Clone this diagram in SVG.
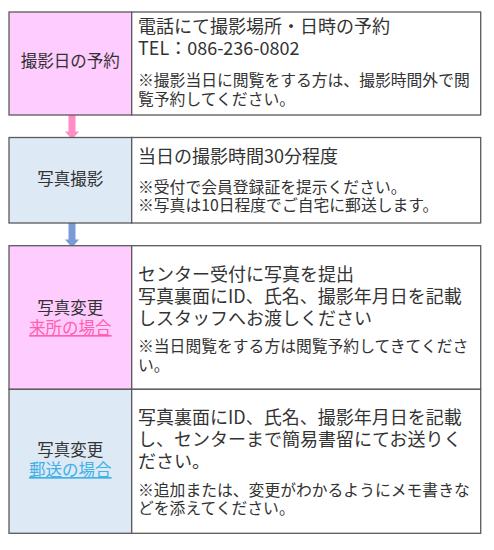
<svg xmlns="http://www.w3.org/2000/svg" width="494" height="550" viewBox="0 0 494 550">
<style>
.cell{stroke:#5a5a5a;stroke-width:1.3}
.pink{fill:#ffccff}
.blue{fill:#dde9f5}
.white{fill:#ffffff}
text{font-family:"Noto Sans CJK JP","Noto Sans",sans-serif;fill:#333333}
.lab{font-size:16.5px;text-anchor:middle}
.main{font-size:18px}
.note{font-size:15.8px}
.lpink{fill:#ff5fab}
.lblue{fill:#3fb0e8}
</style>
<rect width="494" height="550" fill="#ffffff"/>
<g id="connectors">
<polygon points="68.5,115 75.5,115 75.5,131.5 79,131.5 72,139.5 65,131.5 68.5,131.5" fill="#ff8cc6"/>
<polygon points="68.5,223 75.5,223 75.5,239.5 79,239.5 72,247.5 65,239.5 68.5,239.5" fill="#7b9bd6"/>
</g>
<g id="row1">
<rect class="cell pink" x="9" y="12" width="122.7" height="103"/>
<rect class="cell white" x="131.7" y="12" width="349" height="103"/>
<text class="lab" x="70.3" y="67">撮影日の予約</text>
<text class="main" x="138" y="33">電話にて撮影場所・日時の予約</text>
<text class="main" x="138" y="55">TEL：086-236-0802</text>
<text class="note" x="138" y="86">※撮影当日に閲覧をする方は、撮影時間外で閲</text>
<text class="note" x="138" y="105">覧予約してください。</text>
</g>
<g id="row2">
<rect class="cell blue" x="9" y="137.5" width="122.7" height="85.5"/>
<rect class="cell white" x="131.7" y="137.5" width="349" height="85.5"/>
<text class="lab" x="70.3" y="185">写真撮影</text>
<text class="main" x="138" y="163">当日の撮影時間30分程度</text>
<text class="note" x="138" y="193">※受付で会員登録証を提示ください。</text>
<text class="note" x="138" y="211">※写真は10日程度でご自宅に郵送します。</text>
</g>
<g id="row3">
<rect class="cell pink" x="9" y="245.7" width="122.7" height="143.6"/>
<rect class="cell white" x="131.7" y="245.7" width="349" height="143.6"/>
<text class="lab" x="70.3" y="314">写真変更</text>
<text class="lab lpink" x="70.3" y="334" text-decoration="underline">来所の場合</text>
<text class="main" x="138" y="281">センター受付に写真を提出</text>
<text class="main" x="138" y="303">写真裏面にID、氏名、撮影年月日を記載</text>
<text class="main" x="138" y="325">しスタッフへお渡しください</text>
<text class="note" x="138" y="352">※当日閲覧をする方は閲覧予約してきてくださ</text>
<text class="note" x="138" y="371">い。</text>
</g>
<g id="row4">
<rect class="cell blue" x="9" y="389.3" width="122.7" height="144"/>
<rect class="cell white" x="131.7" y="389.3" width="349" height="144"/>
<text class="lab" x="70.3" y="456">写真変更</text>
<text class="lab lblue" x="70.3" y="476" text-decoration="underline">郵送の場合</text>
<text class="main" x="138" y="424">写真裏面にID、氏名、撮影年月日を記載</text>
<text class="main" x="138" y="446">し、センターまで簡易書留にてお送りく</text>
<text class="main" x="138" y="468">ださい。</text>
<text class="note" x="138" y="496">※追加または、変更がわかるようにメモ書きな</text>
<text class="note" x="138" y="514">どを添えてください。</text>
</g>
</svg>
